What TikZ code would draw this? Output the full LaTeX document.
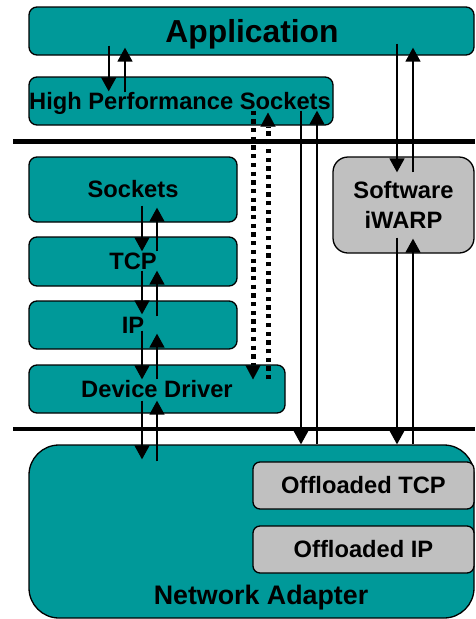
\documentclass[tikz,border=0pt]{standalone}
\usepackage{fontspec}
\setmainfont{Liberation Sans}
\usetikzlibrary{arrows.meta}
\definecolor{layerteal}{RGB}{0,153,153}
\definecolor{offgray}{RGB}{192,192,192}
\tikzset{
  layer/.style={draw=black, line width=1.3pt, fill=layerteal, rounded corners=8pt,
    inner sep=0pt, font=\bfseries\fontsize{23.7}{27}\selectfont},
  grey/.style={layer, fill=offgray},
  bar/.style={line width=4.5pt},
  flow/.style={line width=1.6pt, -{Triangle[width=15pt,length=14pt]}},
  bypass/.style={line width=5pt, dash pattern=on 4.3pt off 4.4pt,
    -{Triangle[width=15pt,length=14pt,line width=0.1pt]}}
}
\begin{document}
\begin{tikzpicture}[x=1pt, y=-1pt]
\useasboundingbox (0,0) rectangle (475,619);

% protocol layers
\node[layer, minimum width=445pt, minimum height=48pt] (app) at (251.5,31) {};
\node[font=\bfseries\fontsize{31.8}{36}\selectfont] (applabel) at (252,34) {Application};
\node[layer, minimum width=304pt, minimum height=48pt] (hps) at (181,101) {};
\node[font=\bfseries\fontsize{23.7}{27}\selectfont] (hpslabel) at (180,103) {High Performance Sockets};

\node[layer, minimum width=208pt, minimum height=65pt] (sock) at (133,189.5) {Sockets};
\node[layer, minimum width=208pt, minimum height=49pt] (tcp) at (133,261.5) {TCP};
\node[layer, minimum width=208pt, minimum height=48pt] (ip) at (133,325) {IP};
\node[layer, minimum width=256pt, minimum height=48pt] (dd) at (157,389) {Device Driver};

\node[grey, rounded corners=15pt, minimum width=141pt, minimum height=96pt,
      align=center] (iwarp) at (403.5,205) {Software\\[3.5pt]iWARP};

\node[layer, rounded corners=30pt, minimum width=445pt, minimum height=173pt] (na) at (251.5,531.5) {};
\node[font=\bfseries\fontsize{26.8}{30}\selectfont] (nalabel) at (261,598) {Network Adapter};
\node[grey, rounded corners=7pt, minimum width=221pt, minimum height=47pt] (otcp) at (363.5,485.5) {Offloaded TCP};
\node[grey, rounded corners=7pt, minimum width=221pt, minimum height=47pt] (oip) at (363.5,549.5) {Offloaded IP};

% user / kernel / hardware boundaries
\draw[bar] (13,141.7) -- (475,141.7);
\draw[bar] (13,429) -- (475,429);

% application <-> high performance sockets
\draw[flow] ([xshift=-142.8pt,yshift=10pt]app.south) -- ([xshift=-72.3pt,yshift=-15pt]hps.north);
\draw[flow] ([xshift=-56pt,yshift=-16pt]hps.north) -- ([xshift=-126.5pt,yshift=8pt]app.south);

% application <-> software iWARP
\draw[flow] ([xshift=145.5pt,yshift=12pt]app.south) -- ([xshift=-6.5pt,yshift=-16pt]iwarp.north);
\draw[flow] ([xshift=9.5pt,yshift=-16pt]iwarp.north) -- ([xshift=161.5pt,yshift=8pt]app.south);

% high performance sockets <-> network adapter
\draw[flow] ([xshift=120pt,yshift=15pt]hps.south) -- ([xshift=49.5pt]na.north);
\draw[flow] ([xshift=65.5pt]na.north) -- ([xshift=136pt,yshift=15pt]hps.south);

% software iWARP <-> network adapter
\draw[flow] ([xshift=-6.5pt,yshift=16pt]iwarp.south) -- ([xshift=145.5pt]na.north);
\draw[flow] ([xshift=161.5pt]na.north) -- ([xshift=9.5pt,yshift=15pt]iwarp.south);

% host stack
\draw[flow] ([xshift=9pt,yshift=17pt]sock.south) -- ([xshift=9pt,yshift=-15pt]tcp.north);
\draw[flow] ([xshift=24pt,yshift=-15pt]tcp.north) -- ([xshift=24pt,yshift=15pt]sock.south);
\draw[flow] ([xshift=9pt,yshift=16pt]tcp.south) -- ([xshift=9pt,yshift=-14pt]ip.north);
\draw[flow] ([xshift=24pt,yshift=-16pt]ip.north) -- ([xshift=24pt,yshift=16pt]tcp.south);
\draw[flow] ([xshift=9pt,yshift=19pt]ip.south) -- ([xshift=-15pt,yshift=-15pt]dd.north);
\draw[flow] ([xshift=0pt,yshift=-15pt]dd.north) -- ([xshift=24pt,yshift=16pt]ip.south);
\draw[flow] ([xshift=-15pt,yshift=13pt]dd.south) -- ([xshift=-109.5pt,yshift=-15pt]na.north);
\draw[flow] ([xshift=-94.5pt,yshift=-17pt]na.north) -- ([xshift=0pt,yshift=13pt]dd.south);

% high performance sockets <-> device driver
\draw[bypass] ([xshift=72pt,yshift=15pt]hps.south) -- ([xshift=96pt,yshift=-15pt]dd.north);
\draw[bypass] ([xshift=111pt,yshift=-15pt]dd.north) -- ([xshift=87pt,yshift=13pt]hps.south);
\end{tikzpicture}
\end{document}
